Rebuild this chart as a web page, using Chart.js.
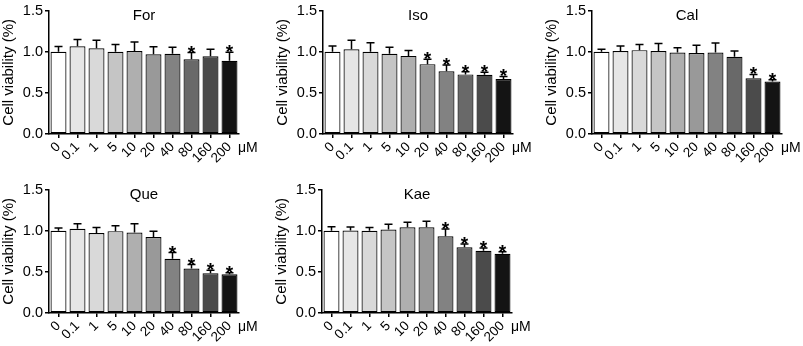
<!DOCTYPE html>
<html>
<head>
<meta charset="utf-8">
<script src="https://cdn.jsdelivr.net/npm/chart.js@4.4.0/dist/chart.umd.min.js"></script>
<style>
html, body { margin: 0; padding: 0; background: #fff; }
#wrap { position: relative; width: 803px; height: 346px; overflow: hidden; }
canvas { position: absolute; }
</style>
</head>
<body>
<div id="wrap">
  <canvas id="c0" width="265" height="178" style="left:0px;top:0px"></canvas>
  <canvas id="c1" width="265" height="178" style="left:274px;top:0px"></canvas>
  <canvas id="c2" width="265" height="178" style="left:543px;top:0px"></canvas>
  <canvas id="c3" width="265" height="178" style="left:0px;top:179px"></canvas>
  <canvas id="c4" width="265" height="178" style="left:273px;top:179px"></canvas>
</div>
<script>
const doses = ['0', '0.1', '1', '5', '10', '20', '40', '80', '160', '200'];
const yTicks = [0, 0.5, 1.0, 1.5];
const unitLabel = 'μM';
const yLabel = 'Cell viability (%)';

const forMean = [1.00, 1.067, 1.043, 1.00, 1.01, 0.97, 0.975, 0.91, 0.945, 0.89];
const forErr  = [0.063, 0.083, 0.097, 0.09, 0.11, 0.09, 0.08, 0.08, 0.085, 0.106];
const forSig  = [0, 0, 0, 0, 0, 0, 0, 1, 0, 1];

const isoMean = [1.00, 1.03, 1.00, 0.975, 0.95, 0.85, 0.764, 0.725, 0.72, 0.67];
const isoErr  = [0.07, 0.11, 0.11, 0.08, 0.066, 0.06, 0.076, 0.031, 0.032, 0.03];
const isoSig  = [0, 0, 0, 0, 0, 1, 1, 1, 1, 1];

const calMean = [1.00, 1.01, 1.02, 1.01, 0.99, 0.985, 0.99, 0.94, 0.677, 0.638];
const calErr  = [0.03, 0.06, 0.07, 0.09, 0.06, 0.095, 0.116, 0.07, 0.047, 0.022];
const calSig  = [0, 0, 0, 0, 0, 0, 0, 0, 1, 1];

const queMean = [1.00, 1.024, 0.972, 0.996, 0.98, 0.925, 0.66, 0.54, 0.485, 0.47];
const queErr  = [0.035, 0.062, 0.068, 0.064, 0.105, 0.071, 0.075, 0.05, 0.035, 0.02];
const queSig  = [0, 0, 0, 0, 0, 0, 1, 1, 1, 1];

const kaeMean = [1.00, 1.004, 1.00, 1.016, 1.043, 1.043, 0.934, 0.80, 0.758, 0.72];
const kaeErr  = [0.05, 0.043, 0.04, 0.064, 0.062, 0.074, 0.089, 0.04, 0.032, 0.026];
const kaeSig  = [0, 0, 0, 0, 0, 0, 1, 1, 1, 1];

const barColors = ['#ffffff', '#e6e6e6', '#d9d9d9', '#c5c5c5', '#afafaf',
                   '#999999', '#828282', '#696969', '#4b4b4b', '#141414'];

const FONT = 'Arial, "Liberation Sans", Helvetica, sans-serif';
Chart.defaults.font.family = FONT;
Chart.defaults.color = '#000';

// error bars (upper only), asterisks, panel title and unit label
const panelDecor = {
  id: 'panelDecor',
  afterDatasetsDraw(chart) {
    const o = chart.options.plugins.panelDecor;
    const ctx = chart.ctx;
    const yScale = chart.scales.y;
    const values = chart.data.datasets[0].data;
    const meta = chart.getDatasetMeta(0);
    ctx.save();
    ctx.strokeStyle = '#000';
    ctx.lineWidth = 1.5;
    meta.data.forEach((bar, i) => {
      const yTop = yScale.getPixelForValue(values[i] + o.errors[i]);
      const yBar = yScale.getPixelForValue(values[i]);
      ctx.beginPath();
      ctx.moveTo(bar.x, yBar);
      ctx.lineTo(bar.x, yTop);
      ctx.moveTo(bar.x - 4, yTop);
      ctx.lineTo(bar.x + 4, yTop);
      ctx.stroke();
      if (o.sig[i]) {
        ctx.fillStyle = '#000';
        ctx.font = 'bold 19px ' + FONT;
        ctx.textAlign = 'center';
        ctx.textBaseline = 'alphabetic';
        ctx.fillText('*', bar.x, yTop + 6);
      }
    });
    const area = chart.chartArea;
    ctx.fillStyle = '#000';
    ctx.font = '15px ' + FONT;
    ctx.textAlign = 'center';
    ctx.textBaseline = 'middle';
    ctx.fillText(o.title, (area.left + area.right) / 2, area.top + 5);
    ctx.font = '14px ' + FONT;
    ctx.textAlign = 'left';
    ctx.fillText(unitLabel, area.right - 1, area.bottom + 14);
    ctx.restore();
  }
};

const makePanel = (id, title, mean, err, sig) => {
  const ctx = document.getElementById(id).getContext('2d');
  return new Chart(ctx, {
    type: 'bar',
    data: {
      labels: doses,
      datasets: [{
        data: mean,
        backgroundColor: barColors,
        borderColor: '#000',
        borderWidth: 1.2,
        borderSkipped: false,
        barPercentage: 0.84,
        categoryPercentage: 1.0
      }]
    },
    options: {
      responsive: false,
      animation: false,
      layout: { padding: { top: 6, bottom: 8, left: 0, right: 26 } },
      plugins: {
        legend: { display: false },
        tooltip: { enabled: false },
        panelDecor: { title: title, errors: err, sig: sig }
      },
      scales: {
        x: {
          offset: true,
          ticks: { autoSkip: false, minRotation: 45, maxRotation: 45, color: '#000',
                   font: { size: 13.5 }, padding: 1 },
          grid: { offset: false, drawOnChartArea: false, tickLength: 4, color: '#000', lineWidth: 1.5 },
          border: { display: true, color: '#000', width: 1.5 },
          afterFit: s => { s.height = 36; }
        },
        y: {
          min: 0,
          max: 1.5,
          afterBuildTicks: s => { s.ticks = yTicks.map(v => ({ value: v })); },
          ticks: { callback: v => Number(v).toFixed(1), color: '#000', font: { size: 14.5 }, padding: 2 },
          grid: { drawOnChartArea: false, tickLength: 4, color: '#000', lineWidth: 1.5 },
          border: { display: true, color: '#000', width: 1.5 },
          title: { display: true, text: yLabel, color: '#000', font: { size: 15 }, padding: 0 },
          afterFit: s => { s.width = 49; }
        }
      }
    },
    plugins: [panelDecor]
  });
};

makePanel('c0', 'For', forMean, forErr, forSig);
makePanel('c1', 'Iso', isoMean, isoErr, isoSig);
makePanel('c2', 'Cal', calMean, calErr, calSig);
makePanel('c3', 'Que', queMean, queErr, queSig);
makePanel('c4', 'Kae', kaeMean, kaeErr, kaeSig);
</script>
</body>
</html>
